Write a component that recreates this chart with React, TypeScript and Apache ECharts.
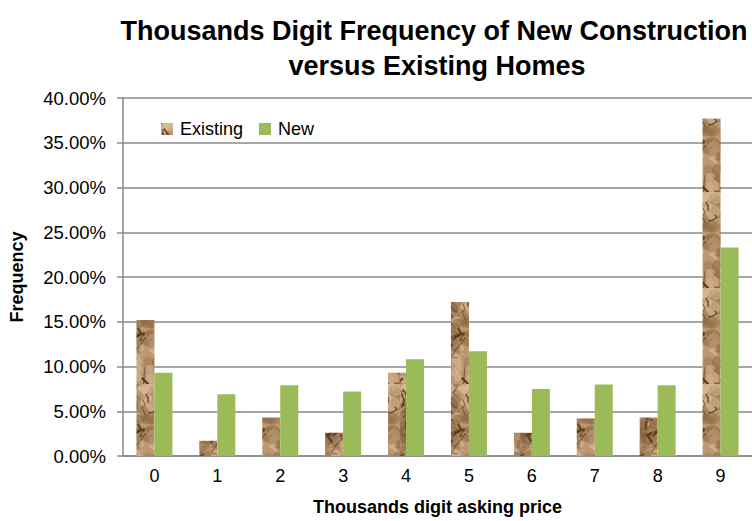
import React, { useEffect, useRef } from 'react';
import * as echarts from 'echarts';

const categories = ['0', '1', '2', '3', '4', '5', '6', '7', '8', '9'];
const existingValues = [15.2, 1.7, 4.3, 2.6, 9.3, 17.2, 2.6, 4.2, 4.3, 37.7];
const newValues = [9.3, 6.9, 7.9, 7.2, 10.8, 11.7, 7.5, 8.0, 7.9, 23.3];
const seriesNames = ['Existing', 'New'];
const titleLines = ['Thousands Digit Frequency of New Construction', 'versus Existing Homes'];
const yAxisName = 'Frequency';
const xAxisName = 'Thousands digit asking price';

function makePaperTexture(): HTMLCanvasElement {
  const c = document.createElement('canvas');
  c.width = 40;
  c.height = 96;
  const ctx = c.getContext('2d')!;
  let seed = 24680;
  const rnd = () => {
    seed = (seed * 1103515245 + 12345) % 2147483648;
    return seed / 2147483648;
  };
  ctx.fillStyle = '#bb9670';
  ctx.fillRect(0, 0, c.width, c.height);
  for (let i = 0; i < 80; i++) {
    const x = rnd() * c.width;
    const y = rnd() * c.height;
    const r = 2 + rnd() * 8;
    const t = rnd();
    ctx.fillStyle =
      t > 0.6 ? 'rgba(222,196,160,0.45)' : t > 0.25 ? 'rgba(150,108,66,0.35)' : 'rgba(110,76,44,0.3)';
    ctx.beginPath();
    ctx.ellipse(x, y, r, r * (0.4 + rnd()), rnd() * Math.PI, 0, Math.PI * 2);
    ctx.fill();
  }
  for (let i = 0; i < 20; i++) {
    let x = rnd() * c.width;
    let y = rnd() * c.height;
    ctx.strokeStyle = 'rgba(75,48,24,' + (0.5 + rnd() * 0.4).toFixed(2) + ')';
    ctx.lineWidth = 0.8 + rnd() * 1.8;
    ctx.beginPath();
    ctx.moveTo(x, y);
    for (let k = 0; k < 3; k++) {
      x += (rnd() - 0.5) * 14;
      y += (rnd() - 0.3) * 12;
      ctx.lineTo(x, y);
    }
    ctx.stroke();
  }
  for (let i = 0; i < 12; i++) {
    const x = rnd() * c.width;
    const y = rnd() * c.height;
    ctx.strokeStyle = 'rgba(236,218,190,0.6)';
    ctx.lineWidth = 1;
    ctx.beginPath();
    ctx.moveTo(x, y);
    ctx.lineTo(x + (rnd() - 0.5) * 10, y + rnd() * 8);
    ctx.stroke();
  }
  return c;
}

export default function App() {
  const ref = useRef<HTMLDivElement>(null);

  useEffect(() => {
    document.body.style.margin = '0';
    const chart = echarts.init(ref.current!, undefined, { renderer: 'svg' });
    const paper = makePaperTexture();
    const font = '"Liberation Sans", Arial, Helvetica, sans-serif';
    const grey = '#888888';

    chart.setOption({
      animation: false,
      backgroundColor: '#ffffff',
      textStyle: { fontFamily: font },
      graphic: [
        {
          type: 'text',
          x: 434,
          y: 31,
          style: {
            text: titleLines[0],
            font: 'bold 27px ' + font,
            fill: '#000',
            textAlign: 'center',
            textVerticalAlign: 'middle',
          },
        },
        {
          type: 'text',
          x: 437,
          y: 66,
          style: {
            text: titleLines[1],
            font: 'bold 27px ' + font,
            fill: '#000',
            textAlign: 'center',
            textVerticalAlign: 'middle',
          },
        },
      ],
      legend: {
        left: 156,
        top: 115,
        itemWidth: 12,
        itemHeight: 12,
        itemGap: 16,
        icon: 'rect',
        data: seriesNames,
        textStyle: { fontSize: 18, color: '#000', fontFamily: font, padding: [0, 0, 0, 2] },
      },
      grid: { left: 122, top: 98, width: 639, height: 359 },
      xAxis: {
        type: 'category',
        data: categories,
        name: xAxisName,
        nameLocation: 'middle',
        nameGap: 42,
        nameTextStyle: { fontSize: 18, fontWeight: 'bold', color: '#000', fontFamily: font },
        axisLine: { show: true, lineStyle: { color: grey, width: 1.5 } },
        axisTick: { show: false },
        axisLabel: { fontSize: 18, color: '#000', margin: 11, fontFamily: font },
      },
      yAxis: {
        type: 'value',
        min: 0,
        max: 40,
        interval: 5,
        name: yAxisName,
        nameLocation: 'middle',
        nameRotate: 90,
        nameGap: 97,
        nameTextStyle: { fontSize: 18, fontWeight: 'bold', color: '#000', fontFamily: font },
        axisLine: { show: true, lineStyle: { color: grey, width: 1.5 } },
        axisTick: { show: true, inside: false, length: 6, lineStyle: { color: grey, width: 1.5 } },
        axisLabel: {
          fontSize: 18.5,
          color: '#000',
          margin: 17,
          fontFamily: font,
          formatter: (v: number) => v.toFixed(2) + '%',
        },
        splitLine: { show: true, lineStyle: { color: grey, width: 1.5 } },
      },
      series: [
        {
          name: seriesNames[0],
          type: 'bar',
          data: existingValues,
          barWidth: 18,
          barGap: '0%',
          itemStyle: { color: { image: paper, repeat: 'repeat' } as any },
        },
        {
          name: seriesNames[1],
          type: 'bar',
          data: newValues,
          barWidth: 18,
          barGap: '0%',
          itemStyle: { color: '#9bbb59' },
        },
      ],
    });

    return () => chart.dispose();
  }, []);

  return (
    <div
      ref={ref}
      style={{ width: 752, height: 521, position: 'absolute', left: 0, top: 0 }}
    />
  );
}
